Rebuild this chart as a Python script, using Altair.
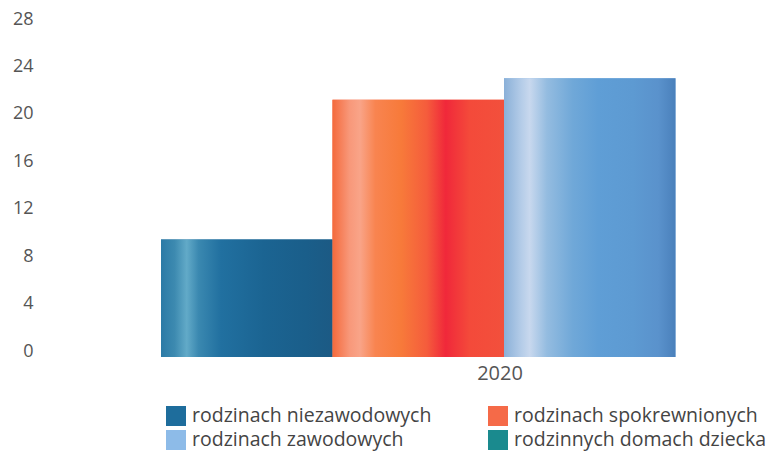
import altair as alt
import pandas as pd

# ---- data ----
years = ["2020"]
series = [
    "rodzinach niezawodowych",
    "rodzinach spokrewnionych",
    "rodzinach zawodowych",
    "rodzinnych domach dziecka",
]
values_2020 = [9.9, 21.7, 23.5, 0]
y_ticks = [0, 4, 8, 12, 16, 20, 24, 28]

legend_colors = ["#1e6d9c", "#f56a48", "#8dbbe8", "#1a8a8e"]

# horizontal gradients of the bars (offset, colour)
grad_stops = {
    "rodzinach niezawodowych": [
        (0.0, "#2b7aa6"), (0.08, "#3d8ab0"), (0.15, "#62aac8"), (0.22, "#3a88b0"),
        (0.35, "#2170a0"), (0.6, "#1b6492"), (0.85, "#1a5e8a"), (1.0, "#1c5a84"),
    ],
    "rodzinach spokrewnionych": [
        (0.0, "#f46a3c"), (0.1, "#f8987a"), (0.16, "#f9a488"), (0.25, "#f88450"),
        (0.4, "#f77a3a"), (0.55, "#f55c3c"), (0.66, "#f0283a"), (0.8, "#f44a3a"),
        (1.0, "#f2503c"),
    ],
    "rodzinach zawodowych": [
        (0.0, "#8ab0d8"), (0.1, "#b4cce8"), (0.15, "#c8d8ee"), (0.25, "#94bce0"),
        (0.4, "#70a8d8"), (0.55, "#5f9ed6"), (0.75, "#5d9ad2"), (0.9, "#5a92cc"),
        (1.0, "#4a80bb"),
    ],
}

df = pd.DataFrame({
    "rok": years * len(series),
    "typ": series,
    "liczba": values_2020,
})

FONT = "Open Sans"

x = alt.X(
    "rok:N",
    scale=alt.Scale(range=[119, 805], paddingInner=0, paddingOuter=0),
    axis=alt.Axis(title=None, labelAngle=0, ticks=False, domain=False,
                  labelFontSize=20, labelPadding=6, labelOffset=-4,
                  labelColor="#555555", labelFont=FONT),
)
xo = alt.XOffset("typ:N", sort=series,
                 scale=alt.Scale(domain=series, paddingInner=0, paddingOuter=0))
y = alt.Y(
    "liczba:Q",
    scale=alt.Scale(domain=[0, 28], nice=False),
    axis=alt.Axis(values=y_ticks, title=None, grid=False, domain=False, ticks=False,
                  labelFontSize=18, labelPadding=9, labelOffset=-6,
                  labelColor="#555555", labelFont=FONT),
)
color = alt.Color(
    "typ:N",
    scale=alt.Scale(domain=series, range=legend_colors),
    legend=alt.Legend(
        title=None, orient="none", legendX=124, legendY=381, columns=2,
        direction="horizontal",
        symbolType="square", symbolSize=400, symbolStrokeWidth=0, symbolOpacity=1,
        labelFontSize=19.5, labelFont=FONT, labelColor="#444444", labelOffset=6,
        columnPadding=56, rowPadding=4, labelLimit=400, padding=0,
    ),
)

base = alt.Chart(df).mark_bar().encode(x=x, xOffset=xo, y=y, color=color)
layers = [base]
for name in series[:3]:
    grad = alt.LinearGradient(
        gradient="linear", x1=0, x2=1, y1=0, y2=0,
        stops=[alt.GradientStop(offset=o, color=c) for o, c in grad_stops[name]],
    )
    layers.append(
        alt.Chart(df)
        .transform_filter(alt.datum.typ == name)
        .mark_bar(color=grad)
        .encode(x=x, xOffset=xo, y=y)
    )

chart = (
    alt.layer(*layers)
    .properties(
        width=726, height=332,
        autosize=alt.AutoSizeParams(type="none"),
        padding={"left": 34, "top": 17, "right": 0, "bottom": 100},
        background="white",
    )
    .configure_view(stroke=None)
)

chart.save("out.html", embed_options={"renderer": "svg", "actions": False})
